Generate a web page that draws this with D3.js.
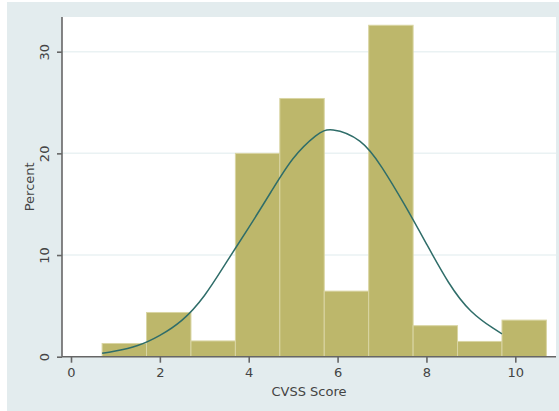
<!DOCTYPE html>
<html>
<head>
<meta charset="utf-8">
<script src="https://cdn.jsdelivr.net/npm/d3@7"></script>
<style>
  body { margin: 0; background: #fff; }
  svg text { font-family: "DejaVu Sans", sans-serif; fill: #444; }
</style>
</head>
<body>
<div id="chart"></div>
<script>
// histogram bins (CVSS score, width 1) and their percent
var binStarts = [0.7, 1.7, 2.7, 3.7, 4.7, 5.7, 6.7, 7.7, 8.7, 9.7];
var binWidth = 1;
var percents = [1.3, 4.35, 1.55, 20.0, 25.4, 6.45, 32.6, 3.05, 1.5, 3.6];

// normal density overlay
var curveX = [0.7, 1.0, 1.5, 2.0, 2.5, 3.0, 3.5, 4.0, 4.5, 5.0, 5.5, 5.9, 6.5, 7.0, 7.5, 8.0, 8.5, 9.0, 9.5, 9.7];
var curveY = [0.33, 0.55, 1.1, 2.1, 3.6, 6.0, 9.3, 12.7, 16.2, 19.5, 21.7, 22.3, 21.2, 18.6, 15.0, 11.1, 7.3, 4.5, 2.8, 2.25];

var xTicks = [0, 2, 4, 6, 8, 10];
var yTicks = [0, 10, 20, 30];

var W = 559, H = 411;
var plot = {left: 62, right: 556, top: 17, bottom: 356.7};

var svg = d3.select("#chart").append("svg").attr("width", W).attr("height", H);

// graph region
svg.append("rect").attr("x", 7).attr("y", 2).attr("width", W - 7).attr("height", H - 2)
  .attr("fill", "#e3ecee");
svg.append("rect").attr("x", plot.left).attr("y", plot.top)
  .attr("width", plot.right - plot.left).attr("height", plot.bottom - plot.top)
  .attr("fill", "#fff");

var x = d3.scaleLinear().domain([0, 10]).range([71, 515.3]);
var y = d3.scaleLinear().domain([0, 30]).range([356.7, 51.7]);

// gridlines
svg.append("g").selectAll("line")
  .data(yTicks.filter(function(d) { return d > 0; }))
  .enter().append("line")
    .attr("x1", plot.left).attr("x2", plot.right)
    .attr("y1", function(d) { return y(d); }).attr("y2", function(d) { return y(d); })
    .attr("stroke", "#eaf2f3").attr("stroke-width", 1.5);

// bars
svg.append("g").selectAll("rect")
  .data(percents)
  .enter().append("rect")
    .attr("x", function(d, i) { return x(binStarts[i]); })
    .attr("width", function(d, i) { return x(binStarts[i] + binWidth) - x(binStarts[i]); })
    .attr("y", function(d) { return y(d); })
    .attr("height", function(d) { return y(0) - y(d); })
    .attr("fill", "#bdb76b")
    .attr("stroke", "#d9d5a3").attr("stroke-width", 1);

// normal curve
var pts = curveX.map(function(d, i) { return [d, curveY[i]]; });
svg.append("path")
  .datum(pts)
  .attr("fill", "none")
  .attr("stroke", "#2f6d69")
  .attr("stroke-width", 1.5)
  .attr("d", d3.line()
    .x(function(d) { return x(d[0]); })
    .y(function(d) { return y(d[1]); })
    .curve(d3.curveNatural));

// axes
var xAxis = svg.append("g")
  .attr("transform", "translate(0," + plot.bottom + ")")
  .call(d3.axisBottom(x).tickValues(xTicks).tickSize(6).tickPadding(5).tickSizeOuter(0));
xAxis.select(".domain").attr("d", "M" + plot.left + ",0H" + plot.right);

var yAxis = svg.append("g")
  .attr("transform", "translate(" + plot.left + ",0)")
  .call(d3.axisLeft(y).tickValues(yTicks).tickSize(5).tickSizeOuter(0));
yAxis.select(".domain").attr("d", "M0," + plot.top + "V" + plot.bottom);
yAxis.selectAll(".tick text")
  .attr("x", 0).attr("dy", null)
  .attr("transform", "translate(-13,0) rotate(-90)")
  .attr("text-anchor", "middle");

svg.selectAll(".domain, .tick line").attr("stroke", "#666").attr("stroke-width", 1.6);
svg.selectAll(".tick text").attr("font-size", 13).attr("fill", "#444");

// axis titles
svg.append("text")
  .attr("x", (plot.left + plot.right) / 2).attr("y", 396)
  .attr("text-anchor", "middle").attr("font-size", 13)
  .text("CVSS Score");

svg.append("text")
  .attr("transform", "translate(34," + ((plot.top + plot.bottom) / 2) + ") rotate(-90)")
  .attr("text-anchor", "middle").attr("font-size", 13)
  .text("Percent");
</script>
</body>
</html>
